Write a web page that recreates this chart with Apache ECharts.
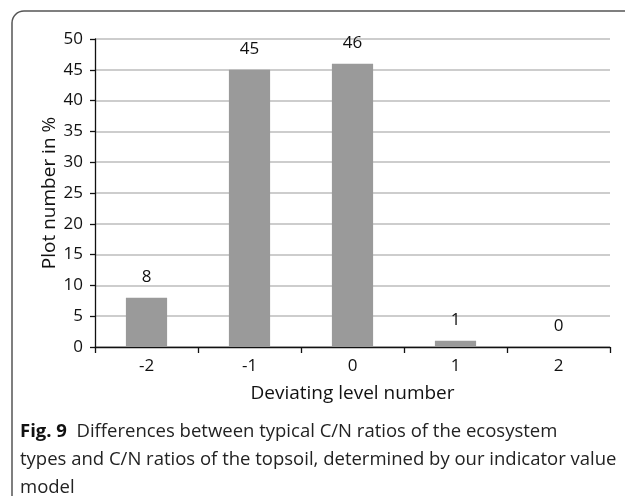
<!DOCTYPE html>
<html><head><meta charset="utf-8">
<script src="https://cdn.jsdelivr.net/npm/echarts@6/dist/echarts.min.js"></script>
<style>html,body{margin:0;padding:0;background:#fff}#c{width:625px;height:496px}</style>
</head><body><div id="c"></div>
<script>
var categories = ['-2', '-1', '0', '1', '2'];
var values = [8, 45, 46, 1, 0];
var yTicks = [0, 5, 10, 15, 20, 25, 30, 35, 40, 45, 50];
var xTitle = 'Deviating level number';
var yTitle = 'Plot number in %';
var captionBold = 'Fig. 9';
var captionLines = ['Differences between typical C/N ratios of the ecosystem', 'types and C/N ratios of the topsoil, determined by our indicator value', 'model'];

var chart = echarts.init(document.getElementById('c'));
var F = 'Open Sans';
chart.setOption({
  animation: false,
  grid: {left: 95, right: 15, top: 39, bottom: 149},
  xAxis: {
    type: 'category', data: categories,
    name: xTitle, nameLocation: 'middle', nameGap: 37,
    nameTextStyle: {fontFamily: F, fontSize: 19, color: '#111'},
    axisLine: {lineStyle: {color: '#111', width: 1.3}},
    axisTick: {show: true, length: 6, lineStyle: {color: '#111', width: 1.3}},
    axisLabel: {fontFamily: F, fontSize: 17, color: '#111', margin: 11}
  },
  yAxis: {
    type: 'value', min: yTicks[0], max: yTicks[yTicks.length - 1], interval: 5,
    name: yTitle, nameLocation: 'middle', nameGap: 36, nameMoveOverlap: false,
    nameTextStyle: {fontFamily: F, fontSize: 19, color: '#111'},
    axisLine: {show: true, lineStyle: {color: '#111', width: 1.3}},
    axisTick: {show: true, length: 5, lineStyle: {color: '#111', width: 1.3}},
    axisLabel: {fontFamily: F, fontSize: 17, color: '#111', margin: 12},
    splitLine: {lineStyle: {color: '#bcbcbc', width: 1.5}}
  },
  series: [{
    type: 'bar', data: values, barWidth: '40%',
    itemStyle: {color: '#9a9a9a'},
    label: {show: true, position: 'top', distance: 12, fontFamily: F, fontSize: 17, color: '#111'}
  }],
  graphic: [
    {type: 'rect', shape: {x: 12, y: 11, width: 700, height: 600, r: 12},
     style: {fill: 'none', stroke: '#555', lineWidth: 1.5}, silent: true},
    {type: 'text', left: 20, top: 418,
     style: {
       text: '{b|' + captionBold + '}  ' + captionLines.join('\n'),
       font: '18.5px "Open Sans"', fill: '#222', lineHeight: 28,
       rich: {b: {font: 'bold 18.5px "Open Sans"', fill: '#111', lineHeight: 28}}
     }}
  ]
});
</script></body></html>
